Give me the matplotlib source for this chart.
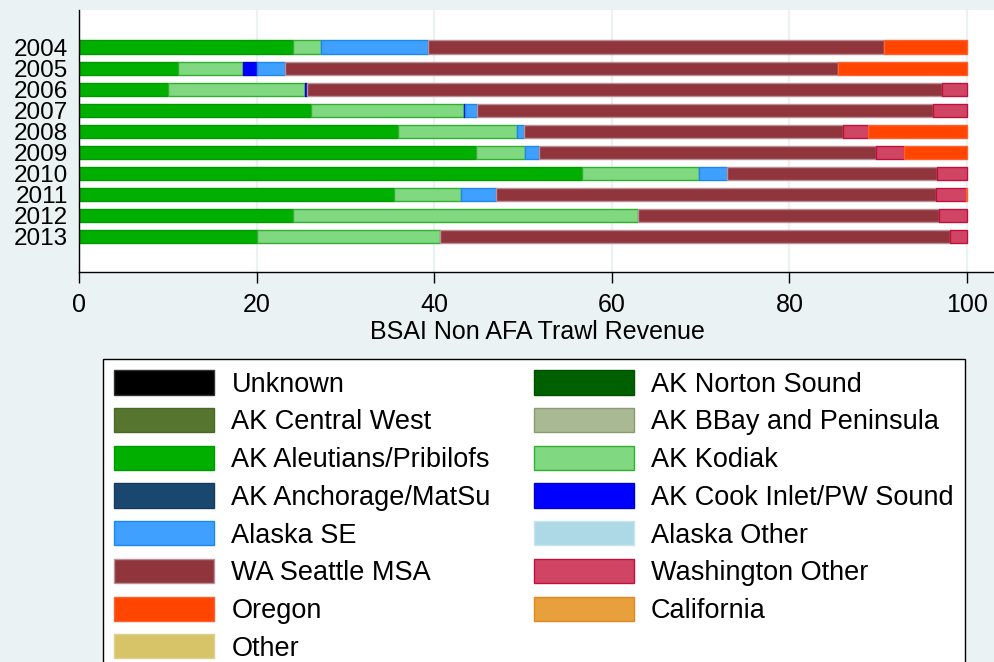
'''     stacked revenue shares by year      '''

'''     imports     '''
import matplotlib
matplotlib.use('Agg')
import matplotlib.pyplot as plt
import numpy as np

plt.rcParams['font.family'] = ['Liberation Sans', 'DejaVu Sans']

# years, top to bottom
years = ['2004', '2005', '2006', '2007', '2008', '2009', '2010', '2011', '2012', '2013']

# regions in stacking order
regions = ['Unknown', 'AK Norton Sound', 'AK Central West', 'AK BBay and Peninsula',
           'AK Aleutians/Pribilofs', 'AK Kodiak', 'AK Anchorage/MatSu',
           'AK Cook Inlet/PW Sound', 'Alaska SE', 'Alaska Other', 'WA Seattle MSA',
           'Washington Other', 'Oregon', 'California', 'Other']

# percent of revenue per region, one value per year
unknown = [0, 0, 0, 0, 0, 0, 0, 0, 0, 0]
norton = [0, 0, 0, 0, 0, 0, 0, 0, 0, 0]
central_west = [0, 0, 0, 0, 0, 0, 0, 0, 0, 0]
bbay = [0, 0, 0, 0, 0, 0, 0, 0, 0, 0]
aleutians = [24.1, 11.2, 10.0, 26.1, 35.9, 44.7, 56.6, 35.5, 24.1, 20.0]
kodiak = [3.2, 7.3, 15.5, 17.2, 13.4, 5.5, 13.2, 7.5, 38.8, 20.7]
anchorage = [0, 0, 0, 0, 0, 0, 0, 0, 0, 0]
cook_inlet = [0, 1.5, 0.2, 0.2, 0, 0, 0, 0, 0, 0]
alaska_se = [12.0, 3.2, 0, 1.3, 0.8, 1.6, 3.2, 4.0, 0, 0]
alaska_other = [0, 0, 0, 0, 0, 0, 0, 0, 0, 0]
seattle = [51.3, 62.3, 71.5, 51.4, 35.9, 37.9, 23.6, 49.5, 33.9, 57.4]
wa_other = [0, 0, 2.8, 3.8, 2.9, 3.2, 3.4, 3.35, 3.2, 1.9]
oregon = [9.4, 14.5, 0, 0, 11.1, 7.1, 0, 0.15, 0, 0]
california = [0, 0, 0, 0, 0, 0, 0, 0, 0, 0]
other = [0, 0, 0, 0, 0, 0, 0, 0, 0, 0]

series = [unknown, norton, central_west, bbay, aleutians, kodiak, anchorage,
          cook_inlet, alaska_se, alaska_other, seattle, wa_other, oregon,
          california, other]

# stata-like fill and outline colours
colors = ['#000000', '#006000', '#56762F', '#A9B994', '#00AF00', '#80D880',
          '#1A476F', '#0000FF', '#40A0FF', '#ADD8E6', '#90353B', '#D14564',
          '#FF4500', '#E8A03C', '#D8C468']
edges = ['#333333', '#005000', '#4A6828', '#8A9A70', '#009A00', '#30B030',
         '#153A5C', '#0000CC', '#1C88F0', '#C8E4EC', '#B89098', '#C01040',
         '#FF6030', '#E08820', '#E0D090']

bg = '#EAF2F3'

fig = plt.figure(figsize=(9.95, 6.62), dpi=100)
fig.patch.set_facecolor(bg)
ax = fig.add_axes([79 / 995, 1 - 272 / 662, 1 - 79 / 995, 262 / 662])
ax.set_facecolor('white')

y = np.arange(len(years))
left = np.zeros(len(years))
handles = []
for name, vals, c, e in zip(regions, series, colors, edges):
    vals = np.array(vals, dtype=float)
    # no outline on empty segments, else they leave a line at the bar end
    lw = [1.0 if v > 0 else 0 for v in vals]
    b = ax.barh(y, vals, left=left, height=0.62, color=c, edgecolor=e,
                linewidth=lw, label=name)
    handles.append(b)
    left = left + vals

ax.set_xlim(0, 103.15)
ax.set_ylim(10.70, -1.76)
ax.set_yticks(y)
ax.set_yticklabels(years)
ax.set_xticks([0, 20, 40, 60, 80, 100])
ax.tick_params(axis='y', length=0, pad=8, labelsize=17.5)
ax.tick_params(axis='x', length=8, width=1, pad=7, labelsize=18)
ax.set_xlabel('BSAI Non AFA Trawl Revenue', fontsize=18, labelpad=2)

ax.grid(axis='x', color=bg, linewidth=1.6)
ax.set_axisbelow(True)
for s in ['top', 'right']:
    ax.spines[s].set_visible(False)
ax.spines['left'].set_linewidth(1.0)
ax.spines['bottom'].set_linewidth(1.0)

# legend reads row by row, matplotlib fills column by column
order = list(range(0, 15, 2)) + list(range(1, 15, 2))
leg_handles = []
for i in order:
    p = plt.Rectangle((0, 0), 1, 1, facecolor=colors[i], edgecolor=edges[i], linewidth=1.0)
    leg_handles.append(p)
leg = fig.legend(leg_handles, [regions[i] for i in order],
                 ncol=2, loc='upper left', bbox_to_anchor=(103 / 995, 1 - 359 / 662),
                 borderaxespad=0, fontsize=19.5, handlelength=3.69, handleheight=1.0,
                 handletextpad=0.63, labelspacing=0.38, columnspacing=1.6,
                 borderpad=0.42, fancybox=False, framealpha=1, edgecolor='black')
leg.get_frame().set_linewidth(1.0)

plt.savefig('out.png', dpi=100, facecolor=bg)
